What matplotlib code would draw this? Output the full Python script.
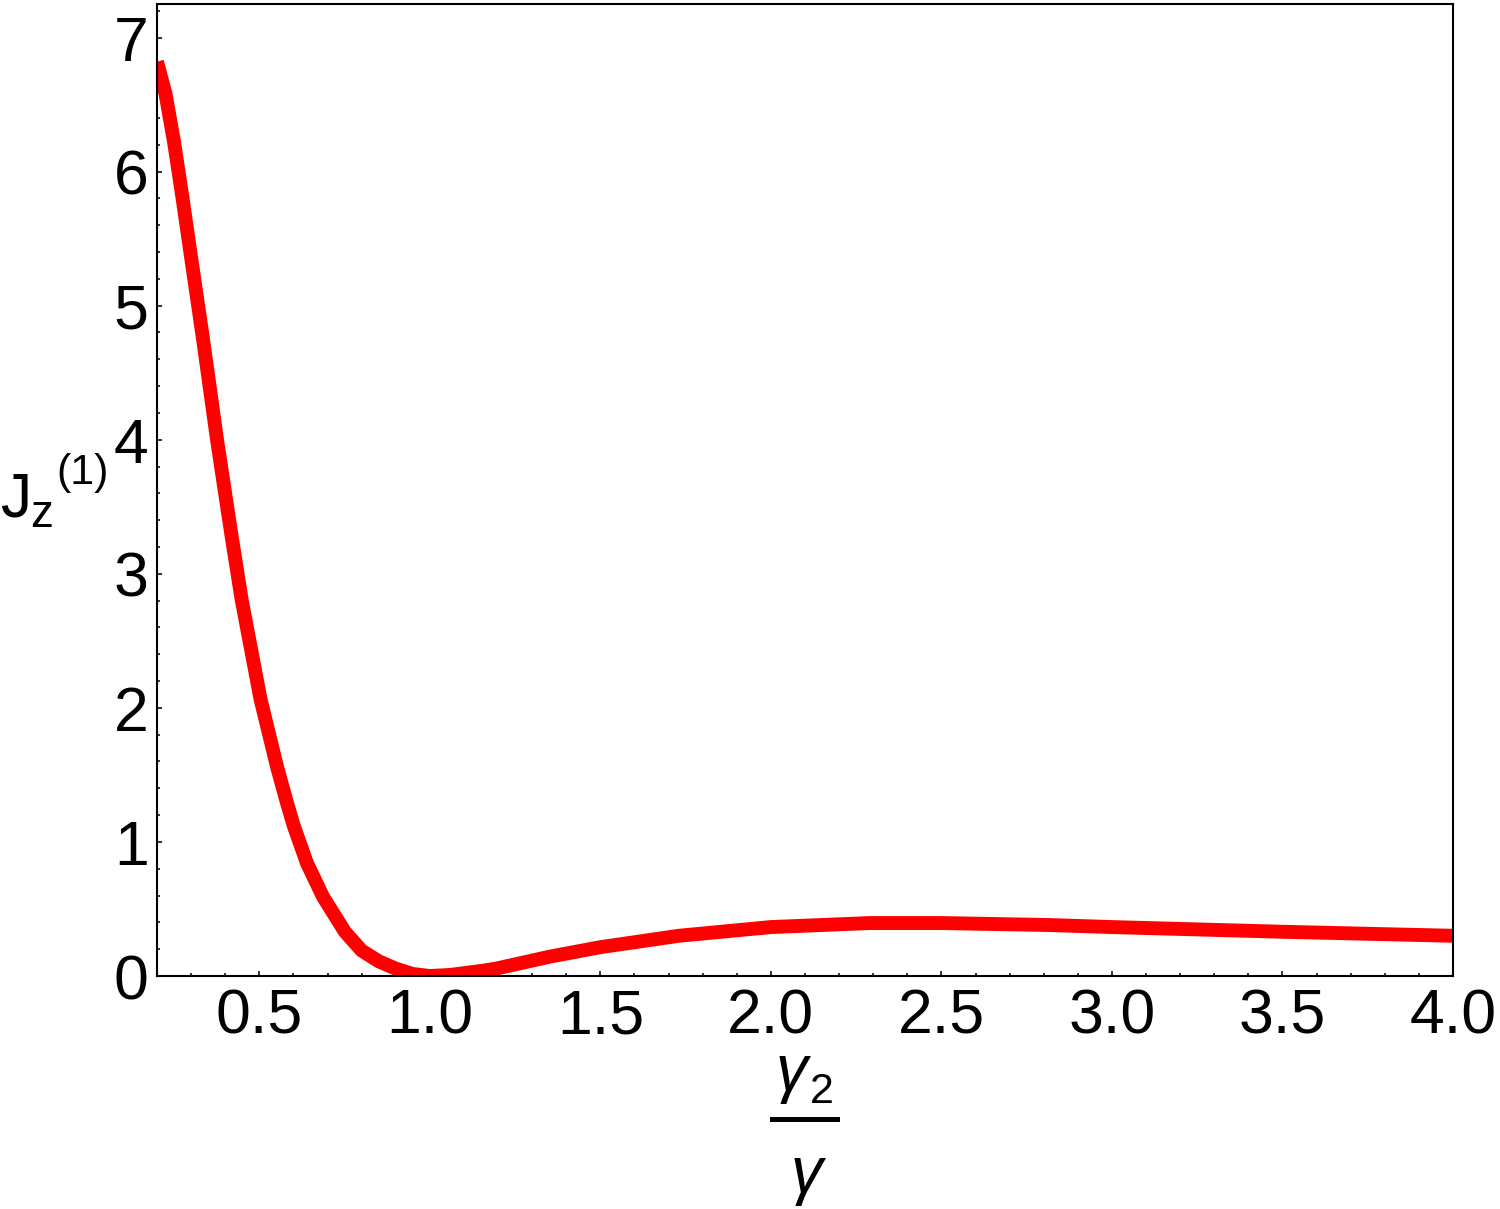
import matplotlib
matplotlib.use("Agg")
import matplotlib.pyplot as plt
from matplotlib.lines import Line2D
from matplotlib.ticker import MultipleLocator

# values
ratio = [0.2, 0.225, 0.25, 0.275, 0.3, 0.335, 0.376, 0.417, 0.448, 0.504,
         0.528, 0.552, 0.579, 0.601, 0.64, 0.687, 0.751, 0.8, 0.85, 0.9,
         0.95, 1.0, 1.06, 1.157, 1.194, 1.353, 1.5, 1.73, 2.0, 2.29,
         2.5, 2.82, 3.0, 3.5, 4.0]
jz1 = [6.82, 6.58, 6.22, 5.80, 5.36, 4.75, 4.00, 3.31, 2.81, 2.06,
       1.81, 1.56, 1.31, 1.12, 0.84, 0.59, 0.33, 0.19, 0.11, 0.055,
       0.015, 0.0, 0.008, 0.04, 0.055, 0.145, 0.215, 0.30, 0.365, 0.395,
       0.395, 0.38, 0.365, 0.33, 0.30]

xticks = [0.5, 1.0, 1.5, 2.0, 2.5, 3.0, 3.5, 4.0]
xticklabels = ["0.5", "1.0", "1.5", "2.0", "2.5", "3.0", "3.5", "4.0"]
yticks = [0, 1, 2, 3, 4, 5, 6, 7]

plt.rcParams['font.family'] = ['Liberation Sans', 'DejaVu Sans']

W, H = 1500, 1209
fig = plt.figure(figsize=(15, 12.09), dpi=100)
ax = fig.add_axes([157 / W, 1 - 976 / H, (1453 - 157) / W, (976 - 4) / H])

ax.plot(ratio, jz1, color='#ff0000', lw=10, solid_capstyle='butt', solid_joinstyle='round')

ax.set_xlim(0.2, 4.0)
ax.set_ylim(0, 7.25)
ax.set_xticks(xticks)
ax.set_xticklabels(xticklabels)
ax.set_yticks(yticks)
ax.xaxis.set_minor_locator(MultipleLocator(0.1))
ax.yaxis.set_minor_locator(MultipleLocator(0.2))
ax.tick_params(which='both', direction='in', top=False, right=False, width=1.1, labelsize=45)
ax.tick_params(which='major', length=3.5)
ax.tick_params(which='minor', length=2.2)
ax.tick_params(axis='x', pad=8)
ax.tick_params(axis='y', pad=6)
for s in ax.spines.values():
    s.set_linewidth(1.5)

# y label J_z^(1), laid out by hand like the reference
def ft(px, py, s, size, **kw):
    fig.text(px / W, 1 - py / H, s, fontsize=size, ha='left', va='baseline', **kw)

ft(0, 517, "J", 45)
ft(30, 527, "z", 33)
ft(56, 484, "(1)", 31)

# x label gamma_2 / gamma
ft(776, 1090, "γ", 46, style='italic')
ft(810, 1103, "2", 31)
fig.add_artist(Line2D([772 / W, 837 / W], [1 - 1118.5 / H, 1 - 1118.5 / H],
                      transform=fig.transFigure, color='black', lw=3.6))
ft(791, 1192, "γ", 46, style='italic')

fig.savefig("out.png", dpi=100)
